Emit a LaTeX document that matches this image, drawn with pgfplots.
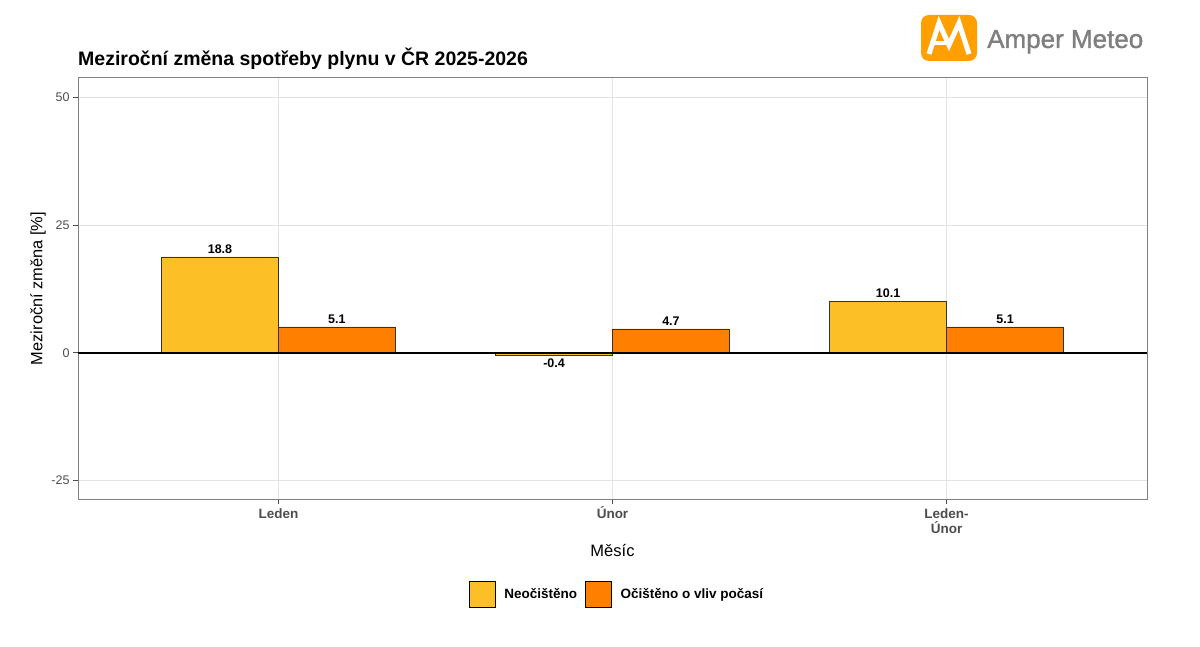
\documentclass[border=0pt]{standalone}
\usepackage{pgfplots}
\pgfplotsset{compat=1.18}
\usepackage{fontspec}
\setmainfont{Liberation Sans}
\newfontfamily\logofont[FakeBold=1.2]{Liberation Sans}

\definecolor{neo}{HTML}{FDBF26}
\definecolor{oci}{HTML}{FF8000}
\definecolor{gridc}{HTML}{E3E3E3}
\definecolor{tickc}{HTML}{4D4D4D}
\definecolor{logoc}{HTML}{FFA000}
\definecolor{logotext}{HTML}{7F7F7F}

\begin{document}
\begin{tikzpicture}[x=1pt,y=1pt]
\useasboundingbox (0,0) rectangle (1200,646);
\fill[white] (0,0) rectangle (1200,646);

% title
\node[anchor=base west, inner sep=0pt, font=\fontsize{19.5}{22}\selectfont\bfseries] at (78,580)
  {Meziroční změna spotřeby plynu v ČR 2025-2026};

% logo
\fill[logoc, rounded corners=8pt] (921,585) rectangle (977,631);
\draw[white, line width=5pt, line join=miter, line cap=butt]
  (929,592) -- (939,623) -- (949,601) -- (959,623) -- (969,592);
\draw[white, line width=4pt] (932,603) -- (950,603);
\node[anchor=base west, inner sep=0pt, text=logotext, font=\logofont\fontsize{26}{28}\selectfont] at (987,598) {Amper Meteo};

\begin{axis}[
  at={(78pt,147pt)}, anchor=south west,
  scale only axis, width=1069pt, height=421pt,
  xmin=-0.6, xmax=2.6, ymin=-28.6, ymax=53.8,
  xtick={0,1,2},
  xticklabels={\vphantom{Ú}Leden, Únor, {\vphantom{Ú}Leden-\\Únor}},
  ytick={-25,0,25,50},
  tick pos=left, tick align=outside,
  major tick length=5pt,
  tick style={draw=tickc, line width=0.9pt},
  /pgf/number format/assume math mode=true,
  xticklabel style={align=center, text=tickc, font=\fontsize{13.5}{15}\selectfont\bfseries, inner sep=2pt},
  yticklabel style={text=tickc, font=\fontsize{12.5}{14}\selectfont},
  grid=major,
  major grid style={draw=gridc, line width=0.8pt},
  axis line style={draw=black!50, line width=1pt},
  xlabel={Měsíc},
  ylabel={Meziroční změna [\%]},
  every axis x label/.style={at={(rel axis cs:0.5,0)}, yshift=-52pt, anchor=center, font=\fontsize{16.5}{18}\selectfont},
  every axis y label/.style={at={(rel axis cs:0,0.5)}, xshift=-40pt, rotate=90, anchor=center, font=\fontsize{16.4}{18}\selectfont},
  ybar, bar width=0.35,
  nodes near coords,
  nodes near coords align={vertical},
  every node near coord/.append style={font=\fontsize{12.5}{14}\selectfont\bfseries, text=black,
    /pgf/number format/.cd, fixed, fixed zerofill, precision=1, assume math mode=true},
  legend style={at={(rel axis cs:0.5042,-0.2257)}, anchor=center, draw=none,
    legend columns=2, font=\fontsize{13.5}{15}\selectfont\bfseries,
    /tikz/every odd column/.append style={column sep=7pt},
    /tikz/every even column/.append style={column sep=6pt}},
  legend cell align=left,
  legend image code/.code={\draw[#1, draw=black, line width=0.6pt] (0pt,-13pt) rectangle (26pt,13pt);},
]
\addplot[fill=neo, draw=black!80, line width=0.6pt, bar shift=-0.175] coordinates {
  (0,18.8) (1,-0.4) (2,10.1)
};
\addlegendentry{Neočištěno}
\addplot[fill=oci, draw=black!80, line width=0.6pt, bar shift=0.175] coordinates {
  (0,5.1) (1,4.7) (2,5.1)
};
\addlegendentry{Očištěno o vliv počasí}
\draw[black, line width=1.6pt] (axis cs:-0.6,0) -- (axis cs:2.6,0);
\end{axis}
\end{tikzpicture}
\end{document}
